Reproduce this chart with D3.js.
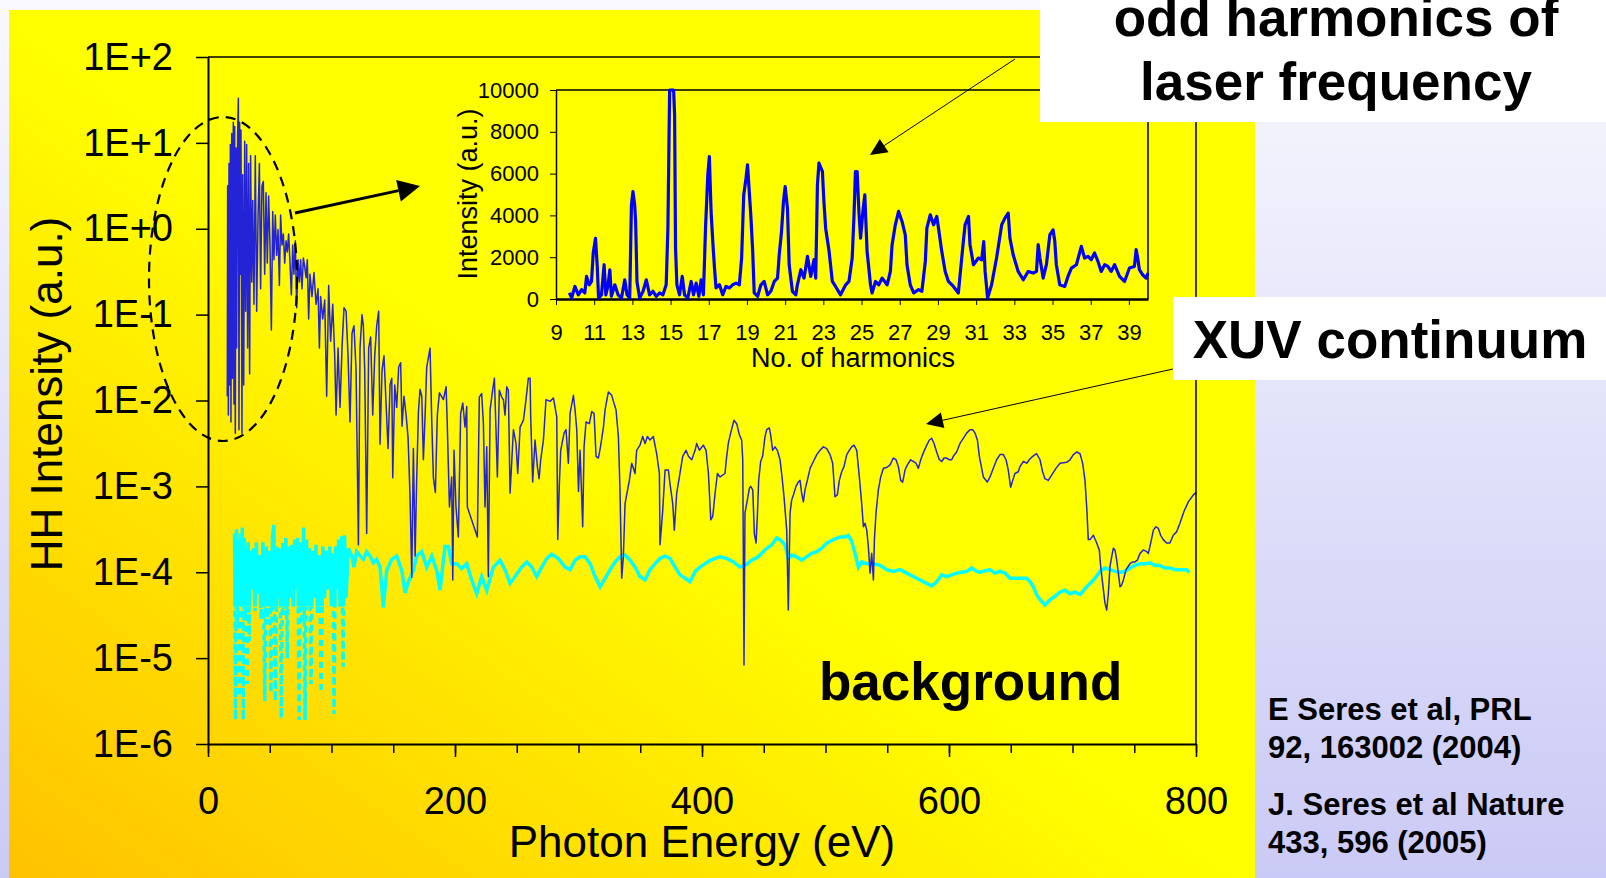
<!DOCTYPE html>
<html>
<head>
<meta charset="utf-8">
<script src="https://cdn.jsdelivr.net/npm/d3@7"></script>
<style>
  html, body { margin: 0; padding: 0; overflow: hidden; background: #fff; }
  svg { display: block; font-family: "Liberation Sans", Arial, sans-serif; }
</style>
</head>
<body>
<div id="chart"></div>
<script>
// ---- data ----
// main chart: [photon energy (eV), log10 of HH intensity (a.u.)]
var xuvSignal = [
  [15.6,-1.95],[15.9,0.50],[16.5,-2.17],[17.0,0.76],[17.5,-1.82],[18.1,0.98],[18.6,-2.25],[19.2,1.11],[19.7,-1.74],[20.5,1.24],
  [21.0,-2.04],[21.6,1.19],[22.1,-2.38],[22.7,0.94],[23.2,-1.39],[24.0,1.11],[24.6,1.52],[25.1,-2.34],[25.6,1.24],[26.2,-0.53],
  [26.7,1.15],[27.5,-2.38],[28.1,0.63],[28.9,-1.82],[29.7,1.02],[30.5,-0.96],[31.3,0.98],[32.1,-1.39],[32.9,0.76],[33.7,-1.69],
  [34.5,0.85],[35.4,-0.62],[36.2,0.33],[37.2,-0.88],[38.3,0.85],[39.4,-0.96],[40.5,0.12],[41.6,0.76],[42.6,-0.70],[43.7,0.50],
  [44.8,0.55],[45.9,-0.53],[47.0,0.42],[48.0,-0.40],[49.1,0.38],[50.2,-0.19],[51.3,-1.18],[52.4,0.20],[53.4,-0.36],[54.5,0.16],
  [55.6,-0.31],[56.7,-0.01],[57.8,-0.66],[58.8,0.16],[59.9,-0.19],[61.0,-0.06],[62.1,-0.40],[63.2,-0.14],[64.2,-0.27],[65.3,-0.06],
  [66.4,-0.40],[67.5,-0.77],[68.6,-0.19],[69.6,-0.53],[70.7,-0.14],[71.8,-0.92],[72.9,-0.36],[74.0,-0.62],[75.0,-0.36],[76.1,-0.70],
  [77.2,-0.34],[78.3,-0.44],[79.4,-0.57],[80.4,-0.36],[81.5,-1.05],[82.6,-0.53],[84.2,-0.79],[85.8,-0.51],[87.5,-0.88],[89.1,-0.70],
  [90.2,-1.39],[91.2,-0.79],[92.9,-1.05],[94.5,-0.83],[96.1,-1.95],[97.7,-0.66],[99.3,-1.31],[101.0,-0.88],[102.6,-1.48],[103.7,-2.17],
  [105.3,-1.39],[106.9,-2.08],[108.5,-1.39],[110.1,-0.92],[111.8,-0.96],[113.4,-1.48],[115.0,-2.25],[116.6,-1.22],[118.2,-1.13],[119.9,-1.65],
  [121.8,-3.68],[123.1,-1.39],[124.7,-1.00],[125.8,-1.13],[126.9,-1.65],[128.5,-3.55],[130.1,-1.39],[131.7,-1.26],[133.4,-2.17],[135.0,-1.48],
  [136.6,-1.13],[138.2,-0.96],[139.3,-2.51],[140.9,-1.65],[142.5,-1.48],[144.2,-2.04],[145.8,-2.56],[147.4,-1.82],[148.8,-1.74],[149.6,-2.90],
  [151.2,-1.82],[152.8,-2.08],[154.4,-1.61],[156.0,-1.56],[157.1,-2.30],[158.7,-1.95],[160.4,-2.17],[162.0,-2.43],[163.6,-3.12],[165.0,-4.06],
  [166.3,-2.56],[167.7,-3.81],[169.0,-2.90],[170.4,-2.13],[171.7,-1.87],[173.1,-1.95],[174.4,-2.69],[175.8,-2.17],[177.1,-1.61],[178.7,-1.48],
  [179.8,-1.39],[181.2,-2.25],[182.5,-2.90],[184.1,-3.07],[185.7,-2.17],[187.4,-1.91],
  [190.6,-1.99],[192.8,-1.84],[193.8,-2.31],[195.5,-3.24],[197.3,-2.89],[198.2,-4.09],[199.2,-2.58],[200.8,-3.24],[202.7,-3.59],[204.6,-2.15],
  [206.3,-2.03],[208.1,-2.31],[209.5,-2.07],[210.0,-3.24],[218.1,-3.59],[219.7,-1.96],[221.6,-1.92],[223.0,-2.27],[224.3,-3.24],[225.7,-2.54],
  [227.0,-4.05],[228.4,-2.11],[230.5,-1.88],[231.9,-1.74],[233.2,-2.34],[234.3,-2.89],[235.9,-1.88],[237.8,-1.96],[239.2,-1.99],[240.5,-2.17],
  [241.9,-1.84],[243.2,-1.88],[244.6,-3.08],[247.3,-2.34],[249.4,-2.50],[250.8,-2.85],[252.7,-2.31],[255.4,-2.23],[257.5,-1.99],[259.4,-1.74],
  [260.8,-1.74],[261.3,-2.19],[262.9,-2.95],[264.8,-2.46],[266.7,-2.77],[268.1,-2.91],[269.4,-2.69],[271.6,-2.46],[273.7,-1.99],[277.0,-2.01],
  [279.7,-1.97],[282.4,-2.19],[283.2,-3.62],[284.5,-2.97],[285.6,-2.58],[288.3,-2.38],[289.9,-2.34],[291.8,-2.73],[293.2,-2.15],[295.9,-1.94],
  [297.2,-2.11],[298.6,-2.34],[300.0,-3.06],[301.3,-2.58],[303.4,-3.47],[304.5,-2.54],[306.1,-2.25],[308.8,-2.27],[310.7,-2.13],[312.6,-2.15],
  [314.2,-2.65],[316.1,-2.67],[317.8,-2.54],[320.2,-2.31],[321.5,-2.11],[324.2,-1.90],[326.9,-1.94],[328.3,-2.01],[330.4,-2.11],[332.3,-2.42],
  [333.6,-3.04],[335.0,-4.07],[336.3,-3.82],[337.7,-3.20],[339.0,-3.10],[341.2,-2.93],[343.1,-2.73],[345.8,-2.85],[347.1,-2.58],[349.8,-2.52],
  [352.0,-2.42],[353.9,-2.50],[355.8,-2.42],[357.9,-2.46],[360.6,-2.42],[363.3,-2.62],[365.5,-2.85],[366.0,-3.68],[368.2,-3.28],[370.1,-2.81],
  [372.8,-2.81],[374.1,-2.97],[376.3,-3.20],[377.6,-3.51],[379.5,-3.08],[381.7,-2.89],[384.4,-2.65],[387.1,-2.58],[389.0,-2.65],[391.7,-2.69],
  [394.4,-2.58],[395.7,-2.50],[397.9,-2.58],[401.1,-2.52],[403.3,-2.58],[405.2,-2.85],[407.1,-3.39],[408.7,-3.35],[410.6,-3.08],[412.5,-2.85],
  [414.6,-2.89],[418.6,-2.85],[420.0,-2.65],[421.3,-2.50],[423.2,-2.38],[425.9,-2.23],[428.1,-2.27],[430.3,-2.40],[432.1,-2.46],[433.0,-2.69],
  [434.0,-5.08],[434.8,-3.31],[436.2,-3.20],[438.4,-3.02],[439.4,-3.00],[441.1,-3.04],[442.4,-3.55],[443.8,-3.66],[444.8,-3.35],[445.9,-2.93],
  [447.5,-2.71],[449.1,-2.65],[451.0,-2.42],[452.4,-2.34],[454.5,-2.32],[455.6,-2.40],[457.2,-2.58],[459.1,-2.54],[461.0,-2.58],[463.2,-2.69],
  [464.8,-2.89],[466.4,-3.12],[468.6,-3.51],[469.9,-4.44],[471.3,-3.31],[472.6,-3.16],[474.0,-3.10],[476.1,-3.00],[478.0,-2.95],[479.4,-2.93],
  [480.7,-3.08],[482.1,-3.18],[483.4,-3.04],[485.3,-2.93],[487.5,-2.79],[490.2,-2.71],[492.9,-2.63],[495.6,-2.58],[498.3,-2.54],[501.0,-2.56],
  [503.7,-2.63],[505.8,-2.73],[507.7,-3.12],[509.6,-3.10],[511.2,-2.93],[513.1,-2.83],[515.0,-2.77],[517.2,-2.63],[519.3,-2.58],[521.2,-2.54],
  [523.1,-2.52],[525.3,-2.58],[527.4,-2.89],[529.3,-3.20],[530.7,-3.47],[532.0,-3.43],[533.4,-3.51],[534.7,-3.70],[536.1,-4.01],[537.4,-3.78],
  [538.8,-4.09],[539.6,-3.62],[540.9,-3.31],[542.8,-3.04],[544.7,-2.89],[546.9,-2.79],[549.6,-2.78],[552.3,-2.75],[554.9,-2.67],[557.1,-2.69],
  [559.0,-2.77],[560.9,-2.93],[562.5,-2.95],[564.4,-2.81],[566.3,-2.75],[569.0,-2.69],[571.1,-2.71],[573.3,-2.73],[575.2,-2.79],[577.1,-2.69],
  [579.2,-2.61],[582.0,-2.52],[584.1,-2.46],[586.0,-2.44],[587.9,-2.50],[590.0,-2.60],[592.2,-2.69],[594.1,-2.71],[596.0,-2.67],[598.1,-2.67],
  [600.3,-2.69],[602.2,-2.69],[603.5,-2.65],[606.2,-2.60],[608.9,-2.50],[611.6,-2.44],[614.3,-2.38],[617.0,-2.34],[619.2,-2.34],[621.1,-2.38],
  [623.0,-2.46],[624.6,-2.65],[627.8,-2.89],[631.0,-2.95],[633.2,-2.89],[635.9,-2.79],[638.6,-2.69],[641.3,-2.63],[644.0,-2.63],[646.2,-2.69],
  [648.0,-2.81],[649.9,-3.01],[651.6,-2.93],[653.4,-2.85],[656.1,-2.83],[657.5,-2.77],[660.2,-2.71],[662.9,-2.73],[665.0,-2.69],[667.8,-2.65],
  [671.0,-2.62],[673.7,-2.69],[675.8,-2.83],[677.7,-2.91],[680.4,-2.93],[683.1,-2.87],[686.6,-2.79],[689.9,-2.73],[695.3,-2.72],[698.0,-2.69],
  [700.7,-2.63],[703.4,-2.60],[706.1,-2.62],[708.2,-2.73],[710.1,-2.93],[711.5,-3.24],[712.8,-3.62],[714.2,-3.62],[716.9,-3.57],[719.6,-3.66],
  [721.7,-3.74],[722.8,-3.93],[724.4,-4.13],[726.3,-4.36],[727.7,-4.44],[729.0,-4.25],[730.4,-3.93],[731.7,-3.82],[733.1,-3.72],[734.4,-3.74],
  [735.8,-3.86],[737.1,-4.01],[738.5,-4.17],[739.8,-4.15],[741.2,-4.09],[743.3,-3.97],[745.2,-3.93],[746.6,-3.90],[748.7,-3.88],[750.6,-3.88],
  [752.5,-3.86],[754.7,-3.78],[757.4,-3.74],[760.1,-3.76],[761.4,-3.78],[763.3,-3.66],[765.5,-3.51],[767.6,-3.47],[769.5,-3.49],[771.4,-3.57],
  [773.5,-3.62],[776.2,-3.66],[778.9,-3.66],[781.6,-3.57],[784.3,-3.53],[787.0,-3.43],[790.3,-3.29],[793.8,-3.18],[797.8,-3.10],[800.0,-3.07]
];

// background, low-energy part (solid band near 1E-4, broken dotted drops below it)
var backgroundLow = [
  [21.5,-3.55],[22.3,-5.72],[23.0,-3.50],[23.8,-4.60],[24.6,-3.62],[25.4,-5.45],[26.2,-3.55],[27.0,-4.40],[27.8,-3.48],[28.6,-5.72],
  [29.4,-3.60],[30.2,-4.50],[31.0,-3.70],[31.8,-5.30],[32.6,-3.65],[33.4,-4.80],[34.2,-3.75],[35.5,-4.20],[36.8,-3.72],[38.0,-4.45],
  [39.2,-3.65],[40.4,-4.25],[41.6,-3.80],[43.0,-4.55],[44.5,-3.65],[46.0,-5.50],[47.2,-3.70],[48.4,-4.60],[49.6,-3.75],[51.0,-5.40],
  [52.2,-3.60],[53.4,-3.45],[54.6,-5.50],[55.8,-3.70],[57.0,-4.30],[58.2,-3.72],[59.4,-5.70],[60.6,-3.66],[61.8,-4.50],[63.0,-3.60],
  [64.2,-5.00],[65.4,-3.70],[66.6,-4.30],[67.8,-3.68],[69.0,-4.40],[70.2,-3.62],[71.4,-4.20],[72.6,-3.60],[73.8,-5.72],[75.0,-3.65],
  [76.2,-4.60],[77.4,-3.48],[78.6,-5.72],[79.8,-3.62],[81.0,-4.40],[82.2,-3.72],[83.4,-5.30],[84.6,-3.75],[86.0,-4.30],[87.4,-3.68],
  [88.8,-4.50],[90.2,-3.80],[91.6,-5.40],[93.0,-3.70],[94.4,-4.30],[95.8,-3.75],[97.2,-4.20],[98.6,-3.70],[100.0,-4.40],[101.4,-3.78],
  [102.0,-5.65],[103.2,-3.70],[104.5,-4.20],[105.8,-3.62],[107.0,-4.40],[108.2,-3.58],[109.4,-5.10],[110.6,-3.57],[111.8,-4.30],[113.6,-3.72]
];

// background, rest of the range
var backgroundHigh = [
  [113.6,-3.72],[116.4,-3.81],[118.2,-3.94],[120.4,-3.76],[123.1,-3.81],[125.8,-3.85],[128.5,-3.76],[131.2,-3.81],[133.9,-3.89],[136.6,-3.85],
  [139.3,-3.94],[142.0,-4.41],[144.7,-3.98],[148.8,-3.85],[152.8,-3.81],[156.9,-3.98],[159.6,-4.24],[162.3,-4.11],[166.3,-3.98],[169.0,-3.81],
  [173.1,-3.76],[177.1,-3.94],[181.2,-3.81],[185.2,-3.98],[187.9,-4.21],[191.9,-3.70],[194.6,-3.70],[197.3,-3.90],[201.4,-3.90],[205.4,-3.96],
  [209.5,-3.90],[213.5,-4.09],[217.6,-4.25],[221.6,-4.05],[225.7,-4.21],[231.1,-3.94],[236.5,-3.86],[240.5,-3.97],[244.6,-4.13],[248.6,-4.05],
  [254.0,-3.94],[258.1,-3.88],[262.1,-3.94],[266.2,-4.05],[270.2,-3.94],[274.3,-3.84],[278.3,-3.79],[283.7,-3.84],[289.1,-3.94],[293.2,-3.97],
  [297.2,-3.86],[301.3,-3.82],[305.3,-3.82],[309.4,-3.90],[313.4,-4.05],[317.5,-4.17],[321.5,-4.07],[325.6,-3.97],[329.6,-3.88],[333.6,-3.82],
  [337.7,-3.80],[341.7,-3.86],[345.8,-3.94],[349.8,-4.05],[353.9,-4.09],[357.9,-3.97],[362.0,-3.90],[366.0,-3.84],[370.1,-3.81],[374.1,-3.84],
  [378.2,-3.94],[382.2,-4.03],[386.3,-4.07],[390.3,-4.11],[394.4,-3.99],[398.4,-3.94],[402.5,-3.90],[406.5,-3.86],[410.6,-3.84],[414.6,-3.82],
  [420.0,-3.84],[425.4,-3.88],[430.8,-3.94],[434.8,-3.92],[440.2,-3.86],[445.6,-3.82],[451.0,-3.74],[456.4,-3.68],[460.5,-3.60],[463.2,-3.62],
  [467.2,-3.68],[469.9,-3.84],[472.6,-3.80],[476.7,-3.82],[480.7,-3.86],[484.8,-3.82],[488.8,-3.78],[492.9,-3.76],[496.9,-3.72],[501.0,-3.66],
  [506.4,-3.62],[511.8,-3.59],[515.8,-3.59],[518.5,-3.57],[521.2,-3.64],[523.9,-3.78],[526.6,-3.94],[529.3,-3.88],[533.4,-3.90],[538.8,-3.90],
  [544.2,-3.92],[549.6,-3.97],[554.9,-3.99],[560.3,-3.97],[565.7,-4.01],[571.1,-4.05],[576.5,-4.09],[581.9,-4.13],[586.0,-4.16],[590.0,-4.11],
  [594.1,-4.03],[598.1,-4.05],[602.2,-4.03],[606.2,-4.01],[610.3,-4.00],[614.3,-3.99],[618.4,-3.95],[622.4,-3.99],[625.1,-4.00],[633.2,-3.97],
  [637.2,-4.01],[641.3,-3.99],[645.3,-4.01],[649.4,-4.07],[653.4,-4.07],[657.5,-4.07],[662.9,-4.07],[665.6,-4.11],[668.3,-4.17],[671.0,-4.26],
  [673.7,-4.32],[677.7,-4.38],[681.8,-4.32],[685.8,-4.28],[689.9,-4.23],[693.9,-4.21],[698.0,-4.25],[702.0,-4.23],[706.1,-4.26],[710.1,-4.19],
  [714.2,-4.13],[718.2,-4.07],[722.3,-3.99],[726.3,-3.95],[730.4,-3.97],[734.4,-3.99],[738.5,-4.00],[742.5,-3.99],[746.6,-3.95],[750.6,-3.92],
  [754.7,-3.90],[758.7,-3.90],[762.8,-3.89],[766.8,-3.92],[770.9,-3.92],[774.9,-3.95],[778.9,-3.95],[783.0,-3.97],[787.0,-3.97],[792.4,-3.97],
  [794.6,-4.00]
];

// inset: [harmonic order, intensity (a.u.)]
var harmonics = [
  [9.70,290],[9.82,50],[9.99,600],[10.17,200],[10.34,450],[10.51,290],[10.60,1080],[10.74,680],[10.86,840],[10.95,2200],
  [11.07,2900],[11.16,1560],[11.23,50],[11.38,200],[11.52,1640],[11.61,200],[11.73,680],[11.82,1400],[11.90,130],[12.08,680],
  [12.25,200],[12.43,50],[12.60,920],[12.72,200],[12.86,50],[12.95,4500],[13.03,5140],[13.12,4500],[13.17,3700],[13.24,840],
  [13.38,50],[13.56,370],[13.73,920],[13.90,200],[14.08,370],[14.25,130],[14.43,290],[14.60,200],[14.77,680],[14.86,3390],
  [14.95,10000],[15.16,10000],[15.21,8800],[15.26,2440],[15.33,680],[15.47,200],[15.61,1080],[15.73,200],[15.90,50],[16.08,840],
  [16.20,200],[16.34,760],[16.48,130],[16.60,920],[16.72,200],[16.83,3390],[16.95,5940],[17.03,6810],[17.12,4190],[17.21,2750],
  [17.30,1480],[17.38,530],[17.56,680],[17.73,200],[17.90,600],[18.08,530],[18.25,680],[18.43,760],[18.60,680],[18.72,1960],
  [18.83,4980],[18.95,5780],[19.03,6420],[19.12,5140],[19.21,3870],[19.30,2280],[19.38,290],[19.56,130],[19.73,680],[19.90,840],
  [20.08,200],[20.25,370],[20.43,840],[20.60,1000],[20.69,2120],[20.81,3230],[20.91,4660],[21.00,5380],[21.12,4350],[21.21,1640],
  [21.38,370],[21.56,200],[21.64,680],[21.82,1400],[21.99,1000],[22.17,2040],[22.34,1080],[22.51,1880],[22.60,1000],[22.69,5460],
  [22.77,6500],[22.95,6100],[23.03,4660],[23.12,3390],[23.30,2280],[23.47,840],[23.64,600],[23.90,200],[24.17,680],[24.34,840],
  [24.51,1960],[24.60,3870],[24.68,6100],[24.77,6100],[24.86,4190],[24.95,2910],[25.07,4190],[25.17,4980],[25.29,2280],[25.47,680],
  [25.55,290],[25.73,840],[25.90,680],[26.08,1000],[26.34,680],[26.51,1320],[26.60,2600],[26.77,3550],[26.94,4190],[27.12,3710],
  [27.29,3070],[27.38,1640],[27.55,680],[27.73,290],[27.99,450],[28.16,370],[28.34,1800],[28.42,3390],[28.60,4030],[28.77,3550],
  [28.94,3950],[29.03,3390],[29.20,2280],[29.38,1320],[29.55,840],[29.81,600],[30.07,290],[30.28,2280],[30.42,3550],[30.60,3950],
  [30.68,2600],[30.86,1640],[31.12,1960],[31.29,1880],[31.40,2750],[31.47,1320],[31.60,50],[31.81,680],[32.07,1960],[32.34,3550],
  [32.51,3870],[32.68,4110],[32.77,2910],[32.94,2120],[33.20,1320],[33.47,920],[33.73,1320],[33.99,1240],[34.16,1320],[34.25,2600],
  [34.34,1960],[34.51,1000],[34.68,1640],[34.86,3070],[35.03,3310],[35.12,2750],[35.20,1640],[35.38,680],[35.64,600],[35.81,1080],
  [35.99,1480],[36.25,1640],[36.51,2520],[36.68,1960],[36.86,2040],[37.03,1880],[37.20,2200],[37.38,1800],[37.55,1320],[37.73,1640],
  [37.90,1560],[38.07,1320],[38.25,1640],[38.51,1080],[38.77,840],[39.03,1480],[39.29,1560],[39.38,2360],[39.46,1960],[39.55,1400],
  [39.72,1160],[39.90,1000],[40.0,1240]
];

var yTickValues = [1e2, 1e1, 1e0, 1e-1, 1e-2, 1e-3, 1e-4, 1e-5, 1e-6];
var yTickLabels = ["1E+2", "1E+1", "1E+0", "1E-1", "1E-2", "1E-3", "1E-4", "1E-5", "1E-6"];
var xMajorTicks = [0, 200, 400, 600, 800];
var xMinorTicks = d3.range(0, 801, 50);
var insetYTicks = [0, 2000, 4000, 6000, 8000, 10000];
var insetXTicks = d3.range(9, 40, 2);

var references = [
  ["E Seres et al, PRL", "92, 163002 (2004)"],
  ["J. Seres et al Nature", "433, 596 (2005)"]
];

// ---- drawing ----
var W = 1606, H = 878;
var svg = d3.select("#chart").append("svg")
  .attr("width", W)
  .attr("height", H);

var defs = svg.append("defs");

var pageGrad = defs.append("linearGradient")
  .attr("id", "pageGrad")
  .attr("x1", 0).attr("y1", 0).attr("x2", 0).attr("y2", 1);
pageGrad.append("stop").attr("offset", 0).attr("stop-color", "#f9f9fe");
pageGrad.append("stop").attr("offset", 1).attr("stop-color", "#cacaf6");

var panelGrad = defs.append("linearGradient")
  .attr("id", "panelGrad")
  .attr("x1", 0).attr("y1", 1).attr("x2", 0.8).attr("y2", 0.2);
panelGrad.append("stop").attr("offset", 0).attr("stop-color", "#ffc200");
panelGrad.append("stop").attr("offset", 0.62).attr("stop-color", "#ffff00");
panelGrad.append("stop").attr("offset", 1).attr("stop-color", "#ffff00");

svg.append("rect")
  .attr("width", W).attr("height", H)
  .attr("fill", "url(#pageGrad)");

svg.append("rect")
  .attr("x", 9).attr("y", 10)
  .attr("width", 1246).attr("height", 868)
  .attr("fill", "url(#panelGrad)");

// main chart
var x = d3.scaleLinear().domain([0, 800]).range([208, 1196]);
var y = d3.scaleLog().domain([1e-6, 1e2]).range([744, 57]);

defs.append("clipPath").attr("id", "mainClip")
  .append("rect")
  .attr("x", x(0)).attr("y", y(1e2))
  .attr("width", x(800) - x(0)).attr("height", y(1e-6) - y(1e2));

// the low-energy background is a solid band above ~4E-5 and broken below
var bandEdge = 4e-5;
defs.append("clipPath").attr("id", "bandClip")
  .append("rect")
  .attr("x", x(0)).attr("y", y(1e2))
  .attr("width", x(800) - x(0)).attr("height", y(bandEdge) - y(1e2));
defs.append("clipPath").attr("id", "dropClip")
  .append("rect")
  .attr("x", x(0)).attr("y", y(bandEdge))
  .attr("width", x(800) - x(0)).attr("height", y(1e-6) - y(bandEdge));

var lineMain = d3.line()
  .x(function (d) { return x(d[0]); })
  .y(function (d) { return y(Math.pow(10, d[1])); });

var plot = svg.append("g").attr("clip-path", "url(#mainClip)");

plot.append("g").attr("clip-path", "url(#bandClip)")
  .append("path")
  .datum(backgroundLow)
  .attr("d", lineMain)
  .attr("fill", "none")
  .attr("stroke", "#00ffff")
  .attr("stroke-width", 3.5);

plot.append("g").attr("clip-path", "url(#dropClip)")
  .append("path")
  .datum(backgroundLow)
  .attr("d", lineMain)
  .attr("fill", "none")
  .attr("stroke", "#00ffff")
  .attr("stroke-width", 3.5)
  .attr("stroke-dasharray", "6,5");

plot.append("path")
  .datum(backgroundHigh)
  .attr("d", lineMain)
  .attr("fill", "none")
  .attr("stroke", "#00ffff")
  .attr("stroke-width", 3.5);

plot.append("path")
  .datum(xuvSignal)
  .attr("d", lineMain)
  .attr("fill", "none")
  .attr("stroke", "#2424d6")
  .attr("stroke-width", 1.5)
  .attr("stroke-linejoin", "round");

// frame
svg.append("path")
  .attr("d", "M" + x(0) + "," + y(1e2) + "H" + x(800) + "V" + y(1e-6))
  .attr("fill", "none")
  .attr("stroke", "#000")
  .attr("stroke-width", 1.5);

var yAxis = svg.append("g")
  .attr("transform", "translate(" + x(0) + ",0)")
  .call(d3.axisLeft(y)
    .tickValues(yTickValues)
    .tickFormat(function (d, i) { return yTickLabels[i]; })
    .tickSize(12)
    .tickSizeOuter(0)
    .tickPadding(23));
yAxis.select(".domain").attr("stroke-width", 2);
yAxis.selectAll(".tick line").attr("stroke-width", 1.5);
yAxis.selectAll("text")
  .style("font-size", "38px")
  .style("font-family", "'Liberation Sans', Arial, sans-serif")
  .attr("fill", "#000");

var xMinor = svg.append("g")
  .attr("transform", "translate(0," + y(1e-6) + ")")
  .call(d3.axisBottom(x).tickValues(xMinorTicks).tickSize(9).tickSizeOuter(0).tickFormat(""));
xMinor.select(".domain").attr("stroke-width", 2);
xMinor.selectAll(".tick line").attr("stroke-width", 1.5);

var xAxis = svg.append("g")
  .attr("transform", "translate(0," + y(1e-6) + ")")
  .call(d3.axisBottom(x).tickValues(xMajorTicks).tickSize(13).tickSizeOuter(0).tickPadding(30));
xAxis.select(".domain").remove();
xAxis.selectAll(".tick line").attr("stroke-width", 1.5);
xAxis.selectAll("text")
  .style("font-size", "38px")
  .style("font-family", "'Liberation Sans', Arial, sans-serif")
  .attr("fill", "#000");

svg.append("text")
  .attr("transform", "translate(62,394) rotate(-90)")
  .attr("text-anchor", "middle")
  .style("font-size", "44px")
  .text("HH Intensity (a.u.)");

svg.append("text")
  .attr("x", 702).attr("y", 857)
  .attr("text-anchor", "middle")
  .style("font-size", "44px")
  .text("Photon Energy (eV)");

// inset chart
var hx = d3.scaleLinear().domain([9, 40]).range([556, 1148]);
var hy = d3.scaleLinear().domain([0, 10000]).range([299, 90]);

var lineInset = d3.line()
  .x(function (d) { return hx(d[0]); })
  .y(function (d) { return hy(d[1]); });

svg.append("path")
  .attr("d", "M" + hx(9) + "," + hy(10000) + "H" + hx(40) + "V" + hy(0))
  .attr("fill", "none")
  .attr("stroke", "#000")
  .attr("stroke-width", 1.5);

var iy = svg.append("g")
  .attr("transform", "translate(" + hx(9) + ",0)")
  .call(d3.axisLeft(hy).tickValues(insetYTicks).tickFormat(d3.format("d"))
    .tickSize(6).tickSizeOuter(0).tickPadding(11));
iy.select(".domain").attr("stroke-width", 1.5);
iy.selectAll("text")
  .style("font-size", "22px")
  .style("font-family", "'Liberation Sans', Arial, sans-serif")
  .attr("fill", "#000");

var ix = svg.append("g")
  .attr("transform", "translate(0," + hy(0) + ")")
  .call(d3.axisBottom(hx).tickValues(insetXTicks).tickSize(6).tickSizeOuter(0).tickPadding(19));
ix.select(".domain").attr("stroke-width", 2.5);
ix.selectAll("text")
  .style("font-size", "22px")
  .style("font-family", "'Liberation Sans', Arial, sans-serif")
  .attr("fill", "#000");

svg.append("path")
  .datum(harmonics)
  .attr("d", lineInset)
  .attr("fill", "none")
  .attr("stroke", "#0000ff")
  .attr("stroke-width", 3.2)
  .attr("stroke-linejoin", "round");

svg.append("text")
  .attr("transform", "translate(477,194) rotate(-90)")
  .attr("text-anchor", "middle")
  .style("font-size", "27px")
  .text("Intensity (a.u.)");

svg.append("text")
  .attr("x", 853).attr("y", 367)
  .attr("text-anchor", "middle")
  .style("font-size", "27px")
  .text("No. of harmonics");

// annotations
svg.append("ellipse")
  .attr("cx", 223).attr("cy", 279)
  .attr("rx", 74).attr("ry", 162)
  .attr("fill", "none")
  .attr("stroke", "#000")
  .attr("stroke-width", 2.2)
  .attr("stroke-dasharray", "10,7");

function arrow(x1, y1, x2, y2, w, len, half) {
  var a = Math.atan2(y2 - y1, x2 - x1);
  var bx = x2 - len * Math.cos(a), by = y2 - len * Math.sin(a);
  svg.append("line")
    .attr("x1", x1).attr("y1", y1).attr("x2", bx).attr("y2", by)
    .attr("stroke", "#000").attr("stroke-width", w);
  var px = -Math.sin(a) * half, py = Math.cos(a) * half;
  svg.append("polygon")
    .attr("points", [[x2, y2], [bx + px, by + py], [bx - px, by - py]].join(" "))
    .attr("fill", "#000");
}

arrow(295, 213, 420, 186, 3, 22, 11);
arrow(1015, 59, 870, 155, 1, 17, 8);
arrow(1173, 369, 926, 424, 1, 17, 8);

// white label boxes
svg.append("rect")
  .attr("x", 1040).attr("y", 0)
  .attr("width", W - 1040).attr("height", 122)
  .attr("fill", "#fff");
svg.append("rect")
  .attr("x", 1173).attr("y", 297)
  .attr("width", W - 1173).attr("height", 83)
  .attr("fill", "#fff");

// the first line sits against the top edge, as in the slide
svg.append("text")
  .attr("x", 1336).attr("y", 36)
  .attr("text-anchor", "middle")
  .style("font-weight", "bold").style("font-size", "53px")
  .text("odd harmonics of");
svg.append("text")
  .attr("x", 1336).attr("y", 100)
  .attr("text-anchor", "middle")
  .style("font-weight", "bold").style("font-size", "53px")
  .text("laser frequency");

svg.append("text")
  .attr("x", 1390).attr("y", 358)
  .attr("text-anchor", "middle")
  .style("font-weight", "bold").style("font-size", "53px")
  .text("XUV continuum");

svg.append("text")
  .attr("x", 819).attr("y", 700)
  .style("font-weight", "bold").style("font-size", "53px")
  .text("background");

var refG = svg.append("g")
  .style("font-weight", "bold")
  .style("font-size", "31px");
references.forEach(function (r, i) {
  r.forEach(function (line, j) {
    refG.append("text")
      .attr("x", 1268)
      .attr("y", 720 + i * 95 + j * 38)
      .text(line);
  });
});
</script>
</body>
</html>
